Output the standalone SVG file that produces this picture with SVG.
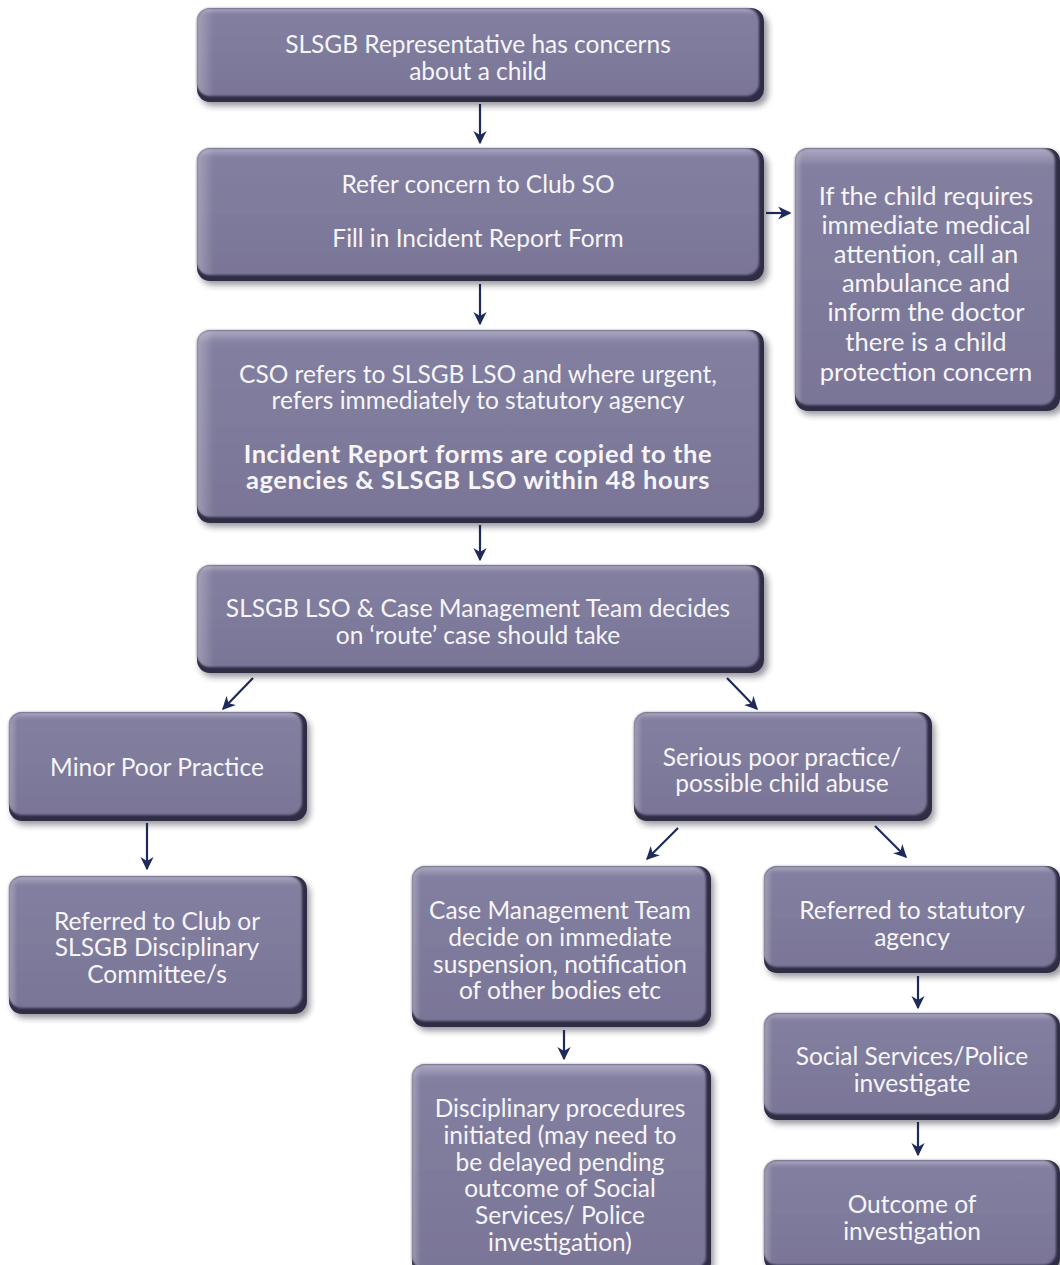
<svg xmlns="http://www.w3.org/2000/svg" width="1060" height="1265" viewBox="0 0 1060 1265">
<style>
.sh{fill:#1c1a2c;opacity:.45;filter:url(#blur)}
.ed{fill:#2f2d45}
.bx{fill:url(#g);filter:url(#soft)}
.hl{fill:url(#gl)}
text{font-family:Lato,"Open Sans","Liberation Sans",sans-serif;font-size:24.5px;fill:#f6f5fa;text-anchor:middle}
.b{font-weight:bold;font-size:25.5px;letter-spacing:0.6px}
.big{font-size:25.5px}
.c line{stroke:#1e2a5c;stroke-width:2.2;marker-end:url(#ah)}
</style>
<defs>
<filter id="blur" x="-10%" y="-10%" width="120%" height="130%"><feGaussianBlur stdDeviation="3"/></filter>
<filter id="soft" x="-5%" y="-5%" width="110%" height="110%"><feGaussianBlur stdDeviation="1.2"/></filter>
<linearGradient id="g" x1="0" y1="0" x2="0" y2="1">
<stop offset="0" stop-color="#aeabc4"/><stop offset="0.07" stop-color="#837fa0"/><stop offset="1" stop-color="#7a7697"/>
</linearGradient>
<linearGradient id="gl" x1="0" y1="0" x2="1" y2="0">
<stop offset="0" stop-color="#ffffff" stop-opacity=".28"/><stop offset="0.03" stop-color="#ffffff" stop-opacity="0"/>
</linearGradient>
<marker id="ah" viewBox="0 0 10 10" refX="9" refY="5" markerWidth="6" markerHeight="6" orient="auto" markerUnits="strokeWidth">
<path d="M0,0 L10,5 L0,10 L3,5 z" fill="#1e2a5c"/>
</marker>
</defs>

<g id="connectors" class="c">
<line x1="480" y1="104" x2="480" y2="143"/>
<line x1="480" y1="284" x2="480" y2="324"/>
<line x1="480" y1="525" x2="480" y2="560"/>
<line x1="766" y1="213" x2="790" y2="213"/>
<line x1="253" y1="678" x2="223" y2="709"/>
<line x1="727" y1="678" x2="757" y2="709"/>
<line x1="147" y1="823" x2="147" y2="869"/>
<line x1="678" y1="828" x2="647" y2="859"/>
<line x1="875" y1="826" x2="906" y2="857"/>
<line x1="564" y1="1030" x2="564" y2="1059"/>
<line x1="918" y1="976" x2="918" y2="1008"/>
<line x1="918" y1="1122" x2="918" y2="1155"/>
</g>

<g id="n1">
<rect class="sh" x="200" y="13" width="568" height="93" rx="13"/>
<rect class="ed" x="197" y="8" width="567" height="94" rx="13"/>
<rect class="bx" x="197" y="8" width="562" height="88" rx="13"/>
<rect class="hl" x="197" y="8" width="562" height="88" rx="13"/>
<text x="478" y="53">SLSGB Representative has concerns</text>
<text x="478" y="80">about a child</text>
</g>

<g id="n2">
<rect class="sh" x="200" y="153" width="568" height="132" rx="13"/>
<rect class="ed" x="197" y="148" width="567" height="133" rx="13"/>
<rect class="bx" x="197" y="148" width="562" height="127" rx="13"/>
<rect class="hl" x="197" y="148" width="562" height="127" rx="13"/>
<text x="478" y="193">Refer concern to Club SO</text>
<text x="478" y="247">Fill in Incident Report Form</text>
</g>

<g id="n3">
<rect class="sh" x="798" y="153" width="266" height="262" rx="13"/>
<rect class="ed" x="795" y="148" width="265" height="263" rx="13"/>
<rect class="bx" x="795" y="148" width="260" height="257" rx="13"/>
<rect class="hl" x="795" y="148" width="260" height="257" rx="13"/>
<text class="big" x="926" y="205">If the child requires</text>
<text class="big" x="926" y="234">immediate medical</text>
<text class="big" x="926" y="263">attention, call an</text>
<text class="big" x="926" y="292">ambulance and</text>
<text class="big" x="926" y="321">inform the doctor</text>
<text class="big" x="926" y="351">there is a child</text>
<text class="big" x="926" y="381">protection concern</text>
</g>

<g id="n4">
<rect class="sh" x="200" y="335" width="568" height="192" rx="13"/>
<rect class="ed" x="197" y="330" width="567" height="193" rx="13"/>
<rect class="bx" x="197" y="330" width="562" height="187" rx="13"/>
<rect class="hl" x="197" y="330" width="562" height="187" rx="13"/>
<text x="478" y="383">CSO refers to SLSGB LSO and where urgent,</text>
<text x="478" y="409">refers immediately to statutory agency</text>
<text class="b" x="478" y="463">Incident Report forms are copied to the</text>
<text class="b" x="478" y="489">agencies &amp; SLSGB LSO within 48 hours</text>
</g>

<g id="n5">
<rect class="sh" x="200" y="570" width="568" height="107" rx="13"/>
<rect class="ed" x="197" y="565" width="567" height="108" rx="13"/>
<rect class="bx" x="197" y="565" width="562" height="102" rx="13"/>
<rect class="hl" x="197" y="565" width="562" height="102" rx="13"/>
<text x="478" y="617">SLSGB LSO &amp; Case Management Team decides</text>
<text x="478" y="644">on ‘route’ case should take</text>
</g>

<g id="n6">
<rect class="sh" x="12" y="717" width="298" height="108" rx="13"/>
<rect class="ed" x="9" y="712" width="298" height="109" rx="13"/>
<rect class="bx" x="9" y="712" width="293" height="103" rx="13"/>
<rect class="hl" x="9" y="712" width="293" height="103" rx="13"/>
<text x="157" y="776">Minor Poor Practice</text>
</g>

<g id="n7">
<rect class="sh" x="637" y="717" width="298" height="108" rx="13"/>
<rect class="ed" x="634" y="712" width="298" height="109" rx="13"/>
<rect class="bx" x="634" y="712" width="293" height="103" rx="13"/>
<rect class="hl" x="634" y="712" width="293" height="103" rx="13"/>
<text x="782" y="766">Serious poor practice/</text>
<text x="782" y="792">possible child abuse</text>
</g>

<g id="n8">
<rect class="sh" x="12" y="881" width="298" height="137" rx="13"/>
<rect class="ed" x="9" y="876" width="298" height="138" rx="13"/>
<rect class="bx" x="9" y="876" width="293" height="132" rx="13"/>
<rect class="hl" x="9" y="876" width="293" height="132" rx="13"/>
<text x="157" y="930">Referred to Club or</text>
<text x="157" y="956">SLSGB Disciplinary</text>
<text x="157" y="983">Committee/s</text>
</g>

<g id="n9">
<rect class="sh" x="415" y="871" width="299" height="160" rx="13"/>
<rect class="ed" x="412" y="866" width="299" height="161" rx="13"/>
<rect class="bx" x="412" y="866" width="294" height="155" rx="13"/>
<rect class="hl" x="412" y="866" width="294" height="155" rx="13"/>
<text x="560" y="919">Case Management Team</text>
<text x="560" y="946">decide on immediate</text>
<text x="560" y="973">suspension, notification</text>
<text x="560" y="999">of other bodies etc</text>
</g>

<g id="n10">
<rect class="sh" x="767" y="871" width="297" height="106" rx="13"/>
<rect class="ed" x="764" y="866" width="296" height="107" rx="13"/>
<rect class="bx" x="764" y="866" width="292" height="101" rx="13"/>
<rect class="hl" x="764" y="866" width="292" height="101" rx="13"/>
<text x="912" y="919">Referred to statutory</text>
<text x="912" y="946">agency</text>
</g>

<g id="n11">
<rect class="sh" x="415" y="1069" width="299" height="210" rx="13"/>
<rect class="ed" x="412" y="1064" width="299" height="211" rx="13"/>
<rect class="bx" x="412" y="1064" width="294" height="205" rx="13"/>
<rect class="hl" x="412" y="1064" width="294" height="205" rx="13"/>
<text x="560" y="1117">Disciplinary procedures</text>
<text x="560" y="1144">initiated (may need to</text>
<text x="560" y="1171">be delayed pending</text>
<text x="560" y="1197">outcome of Social</text>
<text x="560" y="1224">Services/ Police</text>
<text x="560" y="1251">investigation)</text>
</g>

<g id="n12">
<rect class="sh" x="767" y="1018" width="297" height="106" rx="13"/>
<rect class="ed" x="764" y="1013" width="296" height="107" rx="13"/>
<rect class="bx" x="764" y="1013" width="292" height="101" rx="13"/>
<rect class="hl" x="764" y="1013" width="292" height="101" rx="13"/>
<text x="912" y="1065">Social Services/Police</text>
<text x="912" y="1092">investigate</text>
</g>

<g id="n13">
<rect class="sh" x="767" y="1165" width="297" height="110" rx="13"/>
<rect class="ed" x="764" y="1160" width="296" height="111" rx="13"/>
<rect class="bx" x="764" y="1160" width="292" height="105" rx="13"/>
<rect class="hl" x="764" y="1160" width="292" height="105" rx="13"/>
<text x="912" y="1213">Outcome of</text>
<text x="912" y="1240">investigation</text>
</g>
</svg>
